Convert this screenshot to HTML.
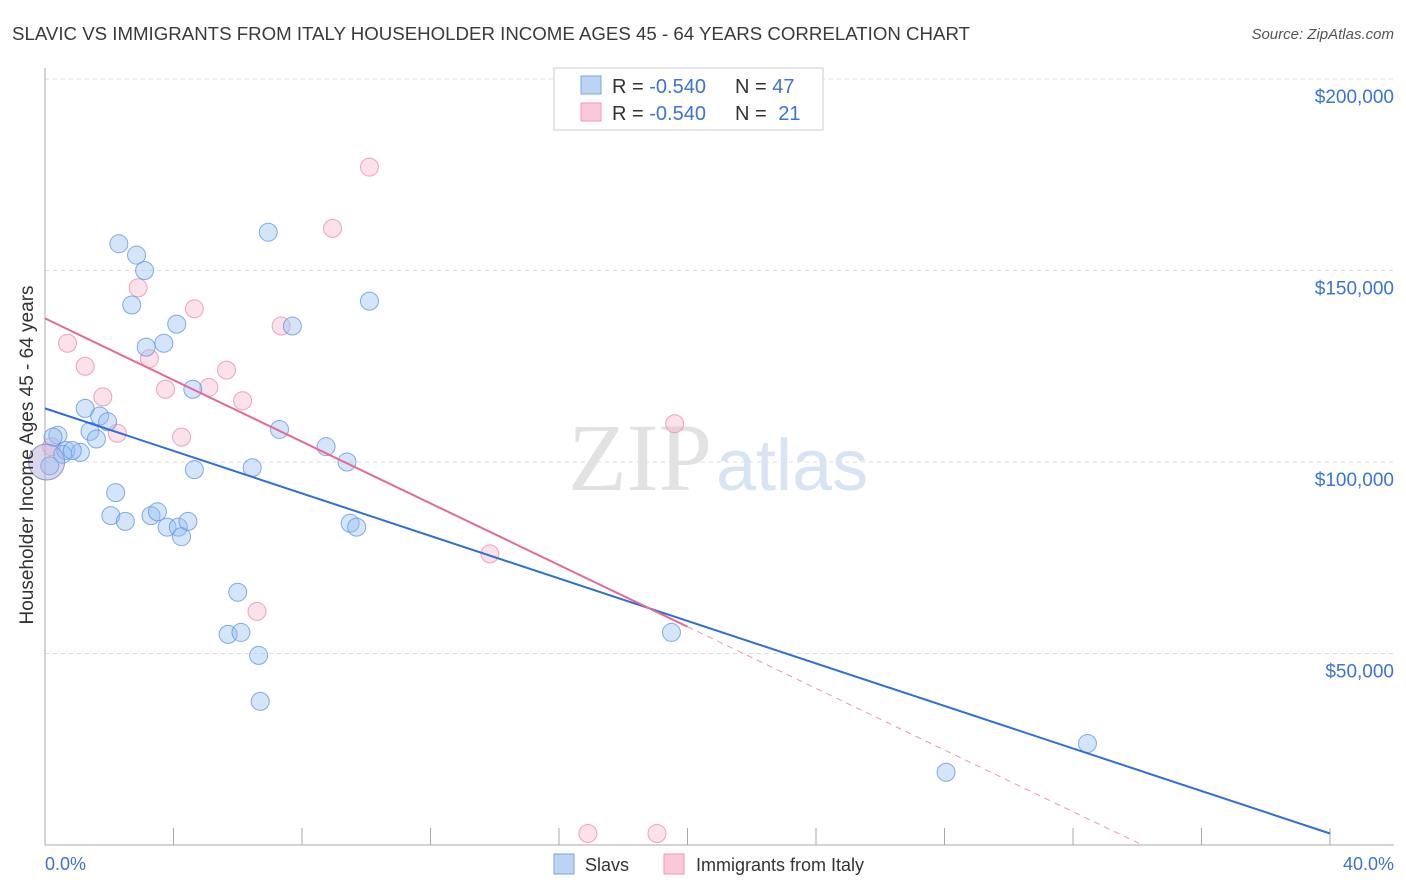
<!DOCTYPE html>
<html><head><meta charset="utf-8"><style>
body{margin:0;background:#fff;font-family:"Liberation Sans",sans-serif;}
svg{display:block}
</style></head><body>
<svg width="1406" height="892">
<text x="12" y="40" font-size="18" fill="#3a3a3a" textLength="958" lengthAdjust="spacingAndGlyphs">SLAVIC VS IMMIGRANTS FROM ITALY HOUSEHOLDER INCOME AGES 45 - 64 YEARS CORRELATION CHART</text>
<text x="1394" y="39" font-size="15" fill="#555" font-style="italic" text-anchor="end">Source: ZipAtlas.com</text>
<g id="grid"></g>
<text x="712" y="490" font-size="96" fill="#e2e2e2" font-family="Liberation Serif,serif" text-anchor="end">ZIP</text>
<text x="716" y="490" font-size="72" fill="#d8e4f4">atlas</text>
<g id="marks"></g>
<text x="33" y="455" font-size="19" fill="#333" text-anchor="middle" transform="rotate(-90 33 455)">Householder Income Ages 45 - 64 years</text>
<text x="45" y="870" font-size="18" fill="#3b74d6">0.0%</text>
<text x="1394" y="870" font-size="18" fill="#3b74d6" text-anchor="end">40.0%</text>
<g>
<rect x="554" y="68" width="269" height="62" fill="#fff" stroke="#ccc"/>
<rect x="581" y="76" width="20" height="18" fill="#bcd4f4" stroke="#7aa6e6"/>
<rect x="581" y="103" width="20" height="18" fill="#f9c9d8" stroke="#ee9ab5"/>
<text x="612" y="93" font-size="20" fill="#333">R = <tspan fill="#3b74d6">-0.540</tspan></text>
<text x="735" y="93" font-size="20" fill="#333">N = <tspan fill="#3b74d6">47</tspan></text>
<text x="612" y="120" font-size="20" fill="#333">R = <tspan fill="#3b74d6">-0.540</tspan></text>
<text x="735" y="120" font-size="20" fill="#333">N = <tspan fill="#3b74d6" dx="6">21</tspan></text>
</g>
<g>
<rect x="554" y="854" width="20" height="20" fill="#bcd4f4" stroke="#7aa6e6"/>
<text x="585" y="871" font-size="18" fill="#333">Slavs</text>
<rect x="664" y="854" width="20" height="20" fill="#f9c9d8" stroke="#ee9ab5"/>
<text x="696" y="871" font-size="18" fill="#333">Immigrants from Italy</text>
</g>
</svg>
<script>
const yTicks=[50000,100000,150000,200000];
const yTickLabels=["$50,000","$100,000","$150,000","$200,000"];
const xTicks=[0,4,8,12,16,20,24,28,32,36,40];
const slavX=[0.15,2.3,2.85,3.1,6.95,2.7,4.1,10.1,7.7,3.15,3.7,4.6,1.25,1.7,1.95,1.4,1.6,0.4,0.25,0.65,0.55,1.1,0.85,7.3,8.75,9.4,4.65,6.45,2.2,2.05,2.5,3.3,3.5,3.8,4.15,4.25,4.45,9.5,9.7,6.0,5.7,6.1,6.65,6.7,19.5,32.45,28.05];
const slavY=[99000,157000,154000,150000,160000,141000,136000,142000,135500,130000,131000,119000,114000,112000,110500,108000,106000,107000,106500,103000,102000,102500,103000,108500,104000,100000,98000,98500,92000,86000,84500,86000,87000,83000,83000,80500,84500,84000,83000,66000,55000,55500,49500,37500,55500,26500,19000];
const itX=[10.1,8.95,2.9,4.65,0.7,7.35,1.25,3.25,3.75,5.1,5.65,6.15,1.8,2.25,4.25,19.6,13.85,6.6,16.9,19.05,0.2,0.05];
const itY=[177000,161000,145500,140000,131000,135500,125000,127000,119000,119500,124000,116000,117000,107500,106500,110000,76000,61000,3000,3000,104000,100000];
const itR=[9,9,9,9,9,9,9,9,9,9,9,9,9,9,9,9,9,9,9,9,9,18];
const slavLine=[114000,3000];
const itLine=[137500,57000];
const NS="http://www.w3.org/2000/svg";
const X=v=>45+v*(1285/40);
const Y=v=>845-v*(191.5/50000);
function mk(p,t,a){const e=document.createElementNS(NS,t);for(const k in a)e.setAttribute(k,a[k]);p.appendChild(e);return e;}
const grid=document.getElementById('grid');
yTicks.forEach((t,i)=>{
 const l=mk(grid,'line',{x1:45,x2:1394,y1:Y(t),y2:Y(t),stroke:'#ddd','stroke-dasharray':'4 4'});
 
 
 const tx=mk(grid,'text',{x:1394,y:Y(t)+24,'font-size':19,fill:'#3b74d6','text-anchor':'end'});
 tx.textContent=yTickLabels[i];
 
 
});
mk(grid,'line',{x1:45,x2:45,y1:68,y2:845,stroke:'#aaa'});
mk(grid,'line',{x1:45,x2:1394,y1:845,y2:845,stroke:'#aaa'});
xTicks.forEach(t=>{
 const l=mk(grid,'line',{x1:X(t),x2:X(t),y1:828,y2:845,stroke:'#aaa'});
 
 
});
const g=document.getElementById('marks');
itX.forEach((x,i)=>{
 const c=mk(g,'circle',{cx:X(x),cy:Y(itY[i]),r:itR[i],fill:'rgba(244,170,195,0.35)',stroke:'rgba(234,130,165,0.7)','stroke-width':1});
 
 
});
slavX.forEach((x,i)=>{
 const c=mk(g,'circle',{cx:X(x),cy:Y(slavY[i]),r:9,fill:'rgba(150,190,240,0.4)',stroke:'rgba(90,145,225,0.75)','stroke-width':1});
 
 
});
const big=mk(g,'circle',{cx:X(0.05),cy:Y(100000),r:18,fill:'rgba(150,190,240,0.3)',stroke:'rgba(90,145,225,0.6)','stroke-width':1});


const bl=mk(g,'line',{x1:X(0),y1:Y(slavLine[0]),x2:X(40),y2:Y(slavLine[1]),stroke:'#2f6fd6','stroke-width':2});


const slope=(itLine[1]-itLine[0])/20;
const pl=mk(g,'line',{x1:X(0),y1:Y(itLine[0]),x2:X(20),y2:Y(itLine[1]),stroke:'#e46a95','stroke-width':2});


const xe=-itLine[0]/slope;
const pd=mk(g,'line',{x1:X(20),y1:Y(itLine[1]),x2:X(xe),y2:Y(0),stroke:'#e899b5','stroke-width':1,'stroke-dasharray':'6 5'});


</script>
</body></html>
